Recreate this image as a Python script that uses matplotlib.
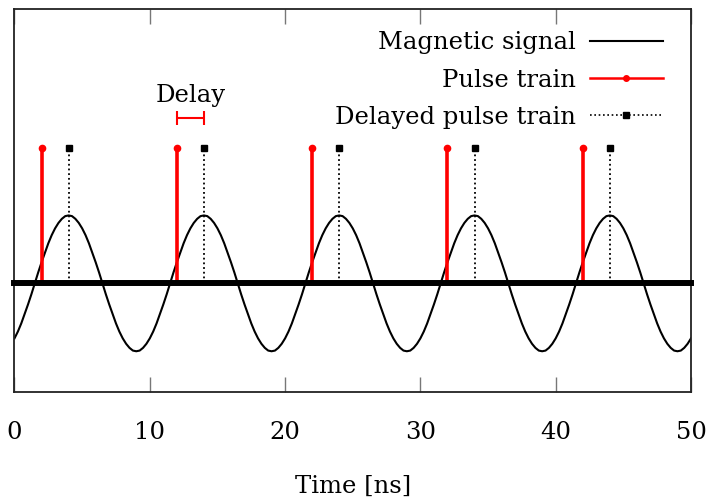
import matplotlib
matplotlib.use("Agg")
import matplotlib.pyplot as plt
from matplotlib.lines import Line2D

# ---- data (signal read every 0.25 ns) ----
time_ns = [i * 0.25 for i in range(201)]
magnetic_signal = [
    -0.81, -0.71, -0.59, -0.45, -0.31, -0.16, 0.00, 0.16, 0.31, 0.45,
    0.59, 0.71, 0.81, 0.89, 0.95, 0.99, 1.00, 0.99, 0.95, 0.89,
    0.81, 0.71, 0.59, 0.45, 0.31, 0.16, 0.00, -0.16, -0.31, -0.45,
    -0.59, -0.71, -0.81, -0.89, -0.95, -0.99, -1.00, -0.99, -0.95, -0.89,
    -0.81, -0.71, -0.59, -0.45, -0.31, -0.16, 0.00, 0.16, 0.31, 0.45,
    0.59, 0.71, 0.81, 0.89, 0.95, 0.99, 1.00, 0.99, 0.95, 0.89,
    0.81, 0.71, 0.59, 0.45, 0.31, 0.16, 0.00, -0.16, -0.31, -0.45,
    -0.59, -0.71, -0.81, -0.89, -0.95, -0.99, -1.00, -0.99, -0.95, -0.89,
    -0.81, -0.71, -0.59, -0.45, -0.31, -0.16, 0.00, 0.16, 0.31, 0.45,
    0.59, 0.71, 0.81, 0.89, 0.95, 0.99, 1.00, 0.99, 0.95, 0.89,
    0.81, 0.71, 0.59, 0.45, 0.31, 0.16, 0.00, -0.16, -0.31, -0.45,
    -0.59, -0.71, -0.81, -0.89, -0.95, -0.99, -1.00, -0.99, -0.95, -0.89,
    -0.81, -0.71, -0.59, -0.45, -0.31, -0.16, 0.00, 0.16, 0.31, 0.45,
    0.59, 0.71, 0.81, 0.89, 0.95, 0.99, 1.00, 0.99, 0.95, 0.89,
    0.81, 0.71, 0.59, 0.45, 0.31, 0.16, 0.00, -0.16, -0.31, -0.45,
    -0.59, -0.71, -0.81, -0.89, -0.95, -0.99, -1.00, -0.99, -0.95, -0.89,
    -0.81, -0.71, -0.59, -0.45, -0.31, -0.16, 0.00, 0.16, 0.31, 0.45,
    0.59, 0.71, 0.81, 0.89, 0.95, 0.99, 1.00, 0.99, 0.95, 0.89,
    0.81, 0.71, 0.59, 0.45, 0.31, 0.16, 0.00, -0.16, -0.31, -0.45,
    -0.59, -0.71, -0.81, -0.89, -0.95, -0.99, -1.00, -0.99, -0.95, -0.89,
    -0.81,
]
pulse_times = [2, 12, 22, 32, 42]
delayed_times = [4, 14, 24, 34, 44]
pulse_height = 2.0
delay_start, delay_end = 12, 14
delay_level = 2.43
x_ticks = [0, 10, 20, 30, 40, 50]
labels = ['Magnetic signal', 'Pulse train', 'Delayed pulse train']

plt.rcParams['font.family'] = ['DejaVu Serif']
FS = 17.5

fig = plt.figure(figsize=(7.11, 5.00), dpi=100)
ax = fig.add_axes([14.5 / 711, 1 - 392 / 500, (691 - 14.5) / 711, (392 - 9) / 500])

ax.plot(time_ns, magnetic_signal, color='black', lw=1.5, zorder=2)

for t in pulse_times:
    ax.plot([t, t], [0, pulse_height], color='red', lw=2.6, zorder=3,
            solid_capstyle='butt')
    ax.plot([t], [pulse_height], marker='o', color='red', ms=4.5, zorder=4)
for t in delayed_times:
    ax.plot([t, t], [0, pulse_height], color='black', lw=1.3,
            linestyle=(0, (1, 1.6)), zorder=3)
    ax.plot([t], [pulse_height], marker='s', color='black', ms=4, zorder=4)

ax.axhline(0, color='black', lw=4.3, zorder=5, clip_on=False,
           solid_capstyle='projecting')

# delay marker
mid = (delay_start + delay_end) / 2
half = (delay_end - delay_start) / 2
ax.errorbar([mid], [delay_level], xerr=[[half], [half]], color='red',
            lw=1.5, capsize=5, capthick=1.5, fmt='none', zorder=4)
ax.text(mid, 2.77, 'Delay', ha='center', va='center', fontsize=FS)

ax.set_xlim(0, 50)
ax.set_ylim(-1.6, 4.04)
ax.set_yticks([])
ax.set_xticks(x_ticks)
ax.set_xticklabels([str(v) for v in x_ticks])
ax.tick_params(axis='x', direction='in', length=11, width=1, color='#777777',
               top=True, labeltop=False, pad=21, labelsize=FS)
for s in ax.spines.values():
    s.set_linewidth(1.3)
    s.set_color('#222222')
ax.set_xlabel('Time [ns]', fontsize=FS, labelpad=22)

handles = [
    Line2D([], [], color='black', lw=1.5),
    Line2D([], [], color='red', lw=1.8, marker='o', ms=4),
    Line2D([], [], color='black', lw=1.2, linestyle=(0, (1, 1.6)),
           marker='s', ms=4),
]
ax.legend(handles, labels, loc='upper right', frameon=False, fontsize=FS,
          markerfirst=False, handlelength=3.0, handletextpad=0.55,
          labelspacing=0.58, borderaxespad=0.0,
          bbox_to_anchor=(0.9724, 0.9668), numpoints=1)

fig.savefig('out.png', dpi=100)
